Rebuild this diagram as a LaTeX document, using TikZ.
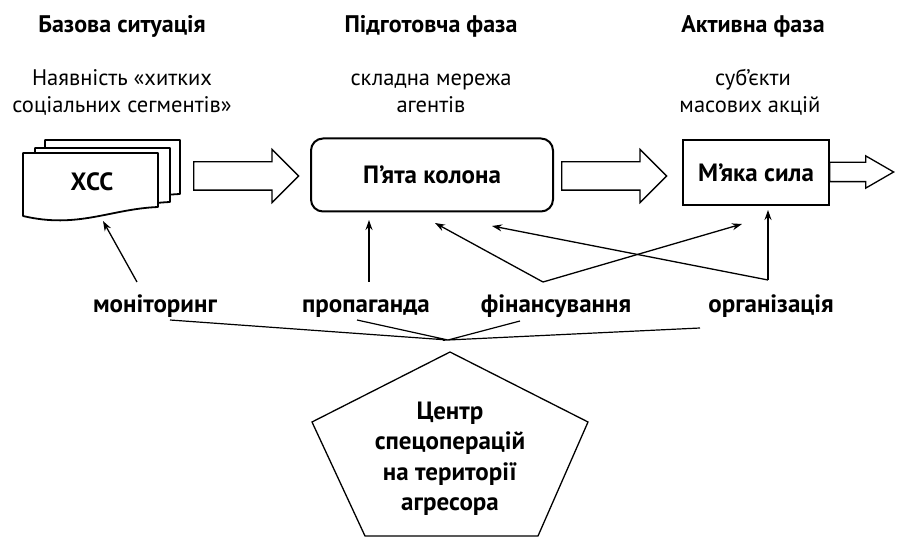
\documentclass[tikz,border=0pt]{standalone}
\usepackage{fontspec}
\setmainfont{PT Sans}
\usetikzlibrary{shapes.arrows}
\usetikzlibrary{arrows.meta}

\begin{document}
\begin{tikzpicture}[x=1pt,y=-1pt,
phase/.style={anchor=base,font=\bfseries\fontsize{24}{27}\selectfont},
note/.style={anchor=base,font=\fontsize{22.5}{27}\selectfont},
task/.style={anchor=base,inner sep=0pt,font=\bfseries\fontsize{25}{27}\selectfont},
hollow/.style={single arrow,draw,line width=1.3pt,fill=white,inner xsep=0pt,
  inner ysep=13.5pt,anchor=tail,single arrow head extend=12.5pt,
  single arrow head indent=0pt},
sheet/.style={draw,line width=1.8pt,fill=white,line join=round},
link/.style={-{Stealth[length=10pt,width=7pt]},line width=1.3pt},
feed/.style={line width=1.2pt}]
%\tikzstyle{every node}=[draw]

\useasboundingbox (0,0) rectangle (898,537);

% headings
\node[phase] (h0) at (122,33) {Базова ситуація};
\node[phase] (h1) at (431,33) {Підготовча фаза};
\node[phase] (h2) at (753,33) {Активна фаза};
\node[note] (n0) at (122,86) {Наявність «хитких};
\node[note] (n0b) at (122,113) {соціальних сегментів»};
\node[note] (n1) at (431,86) {складна мережа};
\node[note] (n1b) at (431,113) {агентів};
\node[note] (n2) at (753,86) {суб’єкти};
\node[note] (n2b) at (750,113) {масових акцій};

% stack of sheets
\foreach \dx/\dy in {22/-13,12/-5,0/0}
  \draw[sheet,shift={(\dx,\dy)}] (23,153) -- (158,153) -- (158,207)
    .. controls (110,209) and (78,229) .. (23,216) -- cycle;
\node[font=\bfseries\fontsize{25}{27}\selectfont] (xcc) at (92,182) {ХСС};

% phases
\node[hollow,minimum height=105pt] (a0) at (193,176) {};
\node[draw,line width=2pt,rounded corners=12pt,minimum width=242pt,
  minimum height=73pt,font=\bfseries\fontsize{25}{27}\selectfont] (pk) at (432,175) {П’ята колона};
\node[hollow,minimum height=105pt] (a1) at (561,176) {};
\node[hollow,minimum height=64pt,inner ysep=9pt,
  single arrow head extend=6.5pt,single arrow tip angle=60] (a2) at (829,172) {};
\node[draw,line width=1.8pt,fill=white,minimum width=146pt,minimum height=65pt,
  font=\bfseries\fontsize{25}{27}\selectfont] (ms) at (756,172.5) {М’яка сила};

% tasks
\node[task] (mon) at (155,313) {моніторинг};
\node[task] (prop) at (366,313) {пропаганда};
\node[task] (fin) at (556,313) {фінансування};
\node[task] (org) at (771,313) {організація};

\coordinate (monT) at (137,282);
\coordinate (propT) at (369,282);
\coordinate (finT) at (543,282);
\coordinate (orgT) at (768,280);
\coordinate (xccA) at (103,221);
\coordinate (pkA) at (369,220);
\coordinate (pkB) at (435,223);
\coordinate (pkC) at (492,226);
\coordinate (msA) at (742,224);
\coordinate (msB) at (768,210);

\draw[link] (monT) -- (xccA);
\draw[link] (propT) -- (pkA);
\draw[link] (finT) -- (pkB);
\draw[link] (finT) -- (msA);
\draw[link] (orgT) -- (msB);
\draw[link] (orgT) -- (pkC);

% centre
\coordinate (hub) at (448,340);
\coordinate (monB) at (170,320);
\coordinate (propB) at (357,320);
\coordinate (finB) at (520,321);
\coordinate (orgB) at (700,328);
\draw[feed] (monB) -- (hub) -- (propB) (finB) -- (hub) -- (orgB);

\draw[line width=1.3pt,line join=miter] (450,352) -- (588,422) -- (538,536)
  -- (365,536) -- (312,422) -- cycle;
\node[align=center,font=\bfseries\fontsize{25}{30.5}\selectfont] (cso) at (450,459)
  {Центр\\спецоперацій\\на території\\агресора};
\end{tikzpicture}
\end{document}
